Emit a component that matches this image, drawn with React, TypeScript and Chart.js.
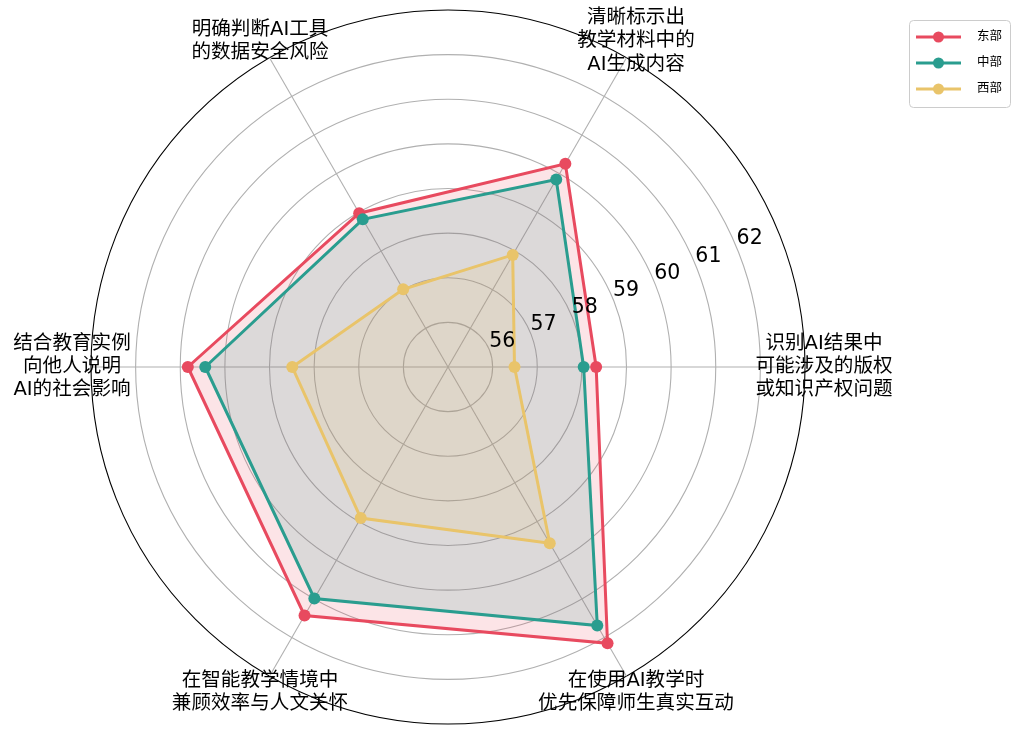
import { useEffect, useRef } from 'react';
import { Chart, RadarController, RadialLinearScale, PointElement, LineElement, Filler } from 'chart.js';

Chart.register(RadarController, RadialLinearScale, PointElement, LineElement, Filler);

const FONT = '"DejaVu Sans", "Noto Sans CJK SC", sans-serif';

// categories listed counter-clockwise starting at 3 o'clock, as in the source figure
const categories = [
  '识别AI结果中\n可能涉及的版权\n或知识产权问题',
  '清晰标示出\n教学材料中的\nAI生成内容',
  '明确判断AI工具\n的数据安全风险',
  '结合教育实例\n向他人说明\nAI的社会影响',
  '在智能教学情境中\n兼顾效率与人文关怀',
  '在使用AI教学时\n优先保障师生真实互动',
];

const seriesNames = ['东部', '中部', '西部'];
const eastValues = [58.32, 60.26, 58.98, 60.83, 61.43, 62.15];
const centralValues = [58.04, 59.85, 58.82, 60.44, 60.99, 61.69];
const westValues = [56.49, 57.9, 57.01, 58.49, 58.91, 59.56];
const seriesColors = ['#E84A5F', '#2A9D8F', '#E9C46A'];

const radialTicks = [56, 57, 58, 59, 60, 61, 62];
const rMin = 55;
const rMax = 63;

// chart.js walks clockwise, the figure walks counter-clockwise
const order = categories.map((_, i) => (i === 0 ? 0 : categories.length - i));
const reorder = (arr: number[]) => order.map((i) => arr[i]);

const hexA = (hex: string, a: number) => {
  const n = parseInt(hex.slice(1), 16);
  return `rgba(${(n >> 16) & 255},${(n >> 8) & 255},${n & 255},${a})`;
};

const textPlugin = {
  id: 'radarText',
  afterDraw(chart: any) {
    const scale = chart.scales.r;
    const ctx = chart.ctx;
    ctx.save();

    // category labels
    ctx.fillStyle = '#000';
    ctx.font = `19.6px ${FONT}`;
    ctx.textAlign = 'center';
    ctx.textBaseline = 'middle';
    order.forEach((catIdx, i) => {
      const p = scale.getPointPosition(i, scale.drawingArea + 19);
      const lines = categories[catIdx].split('\n');
      lines.forEach((ln, k) => {
        ctx.fillText(ln, p.x, p.y + (k - (lines.length - 1) / 2) * 23.3);
      });
    });

    // radial tick labels at 22.5 degrees
    ctx.font = `20.5px ${FONT}`;
    ctx.textAlign = 'left';
    ctx.textBaseline = 'alphabetic';
    const a = (22.5 * Math.PI) / 180;
    radialTicks.forEach((v) => {
      const d = scale.getDistanceFromCenterForValue(v);
      ctx.fillText(String(v), scale.xCenter + d * Math.cos(a), scale.yCenter - d * Math.sin(a) - 3);
    });

    // legend
    const bx = 909, by = 20, bw = 101, bh = 87;
    ctx.fillStyle = 'rgba(255,255,255,0.8)';
    ctx.strokeStyle = '#cccccc';
    ctx.lineWidth = 1;
    ctx.beginPath();
    ctx.roundRect(bx + 0.5, by + 0.5, bw, bh, 4);
    ctx.fill();
    ctx.stroke();
    ctx.font = `12.5px ${FONT}`;
    ctx.textBaseline = 'middle';
    seriesNames.forEach((name, i) => {
      const y = 37 + i * 26;
      ctx.strokeStyle = seriesColors[i];
      ctx.lineWidth = 3;
      ctx.beginPath();
      ctx.moveTo(916, y);
      ctx.lineTo(961, y);
      ctx.stroke();
      ctx.fillStyle = seriesColors[i];
      ctx.beginPath();
      ctx.arc(938.5, y, 5.5, 0, Math.PI * 2);
      ctx.fill();
      ctx.fillStyle = '#000';
      ctx.fillText(name, 977, y);
    });

    ctx.restore();
  },
};

export default function App() {
  const canvasRef = useRef<HTMLCanvasElement>(null);

  useEffect(() => {
    if (!canvasRef.current) return;

    const values = [eastValues, centralValues, westValues];

    const chart = new Chart(canvasRef.current, {
      type: 'radar',
      data: {
        labels: order.map((i) => categories[i]),
        datasets: values.map((v, i) => ({
          label: seriesNames[i],
          data: reorder(v),
          borderColor: seriesColors[i],
          backgroundColor: hexA(seriesColors[i], 0.15),
          borderWidth: 3,
          fill: true,
          tension: 0,
          pointRadius: 6,
          pointHoverRadius: 6,
          pointBorderWidth: 0,
          pointBackgroundColor: seriesColors[i],
          order: 3 - i,
        })),
      },
      options: {
        responsive: true,
        maintainAspectRatio: false,
        animation: false,
        layout: { padding: { left: 91, right: 215, top: 10, bottom: 11 } },
        plugins: { legend: { display: false }, tooltip: { enabled: false } },
        scales: {
          r: {
            min: rMin,
            max: rMax,
            startAngle: 90,
            ticks: { display: false, stepSize: 1 },
            pointLabels: { display: false },
            grid: {
              circular: true,
              color: (c: any) => (c.tick && c.tick.value === rMax ? '#000000' : '#b0b0b0'),
              lineWidth: 1.1,
            },
            angleLines: { color: '#b0b0b0', lineWidth: 1.1 },
          },
        },
      },
      plugins: [textPlugin],
    });

    return () => {
      chart.destroy();
    };
  }, []);

  return (
    <div style={{ position: 'fixed', left: 0, top: 0, width: 1020, height: 735, background: '#fff' }}>
      <canvas ref={canvasRef} />
    </div>
  );
}
